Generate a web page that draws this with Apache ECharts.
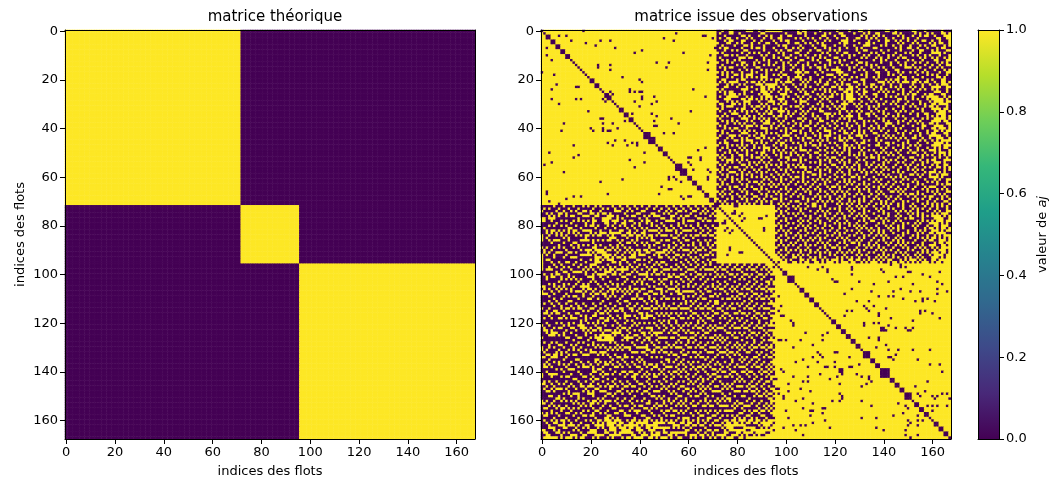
<!DOCTYPE html>
<html><head><meta charset="utf-8">
<style>html,body{margin:0;padding:0;background:#fff}#c{width:1052px;height:484px}</style>
<script src="https://cdn.jsdelivr.net/npm/echarts@6/dist/echarts.min.js"></script>
</head><body><div id="c"></div>
<script>
// Cell values below (# = 1, . = 0).
const blockSizes = [72, 24, 72];
const tickStep = 20;
const titleLeft = 'matrice théorique';
const titleRight = 'matrice issue des observations';
const axisLabelX = 'indices des flots';
const axisLabelY = 'indices des flots';
const colorbarMax = 1;
const viridisStops = ['#fde725','#b5de2b','#6ece58','#35b779','#1f9e89','#26828e','#31688e','#3e4989','#482878','#440154'];

// rows 0..71, columns 72..167
const topRows = [
"..#..##. ....###. .#..#### ###..... .#.##... ..#..... .#....#. ..##..#. .....##. .#...... ##...#.. ....#...",
".#...##. .#...... ..##.... ....#... .##.#... #...#.#. ..##.... #...#.#. .##..... ##.#.... .#.#..#. #...##.#",
"...#.... ..##.#.. .#..#.#. ..#..##. ....#... ...##... #..##... ...#.#.. #.#.#... ..#.#... #..#.##. .#...###",
".#..##.. #...#.#. ...#..#. .##..... #.#..#.# ..#..#.. .#...#.. .##..#.# .#...#.. #...#.#. ..#..... ..##..##",
"...#.##. ..##...# ..#....# ..#.##.. ...#.... #...#.#. ...###.. #.....#. ..#..##. .#.#..#. .#..##.. #..#...#",
"#...##.. #.#...#. .#..##.. #....#.. ##..#.#. .#.#.... ..#.##.. ..#..##. #....#.. ..#.#... #.#....# .#.##..#",
"..#....# ...##.#. ...#.... .#.##... ..#....# ...##... #...#... #...###. ...#.#.. #..#...# ...#.#.. ##...#.#",
".#.##... ..#...#. ##.#...# ....#..# .#.#.... #...#.#. ..#..#.. .#.#.... ##...... .#.#..## ..#...#. ..#.##..",
"...#..#. #..##... ...#.... #.#..##. ..#...#. .##...#. #.#..... .#..##.. ...#..#. ...#.... #..##... #.#...##",
"#.#..... ..#..#.# .#...#.. .#.#.... ##...#.. ...#.#.. .#..##.. ..#....# .#..#... .#...#.# ...#.... ####.#..",
"...##.#. #...#... ..#.#..# ...#..#. ..#.#... #.#...#. ...#..#. #...#.#. ..#...#. #..#.... #.#..#.# ...#...#",
".#...... .###.##. ...#...# .#..##.. #....#.# ..#.#... ##....#. ...#.#.. .#.#..#. ..#.##.. ...#.#.. #.#..#.#",
"..#.#..# .#...... #..#.#.. ..#...#. ..##...# .#...##. ..#.#... .#...... #..#.#.. .#....#. #...#... .##...##",
"#...#.#. ..##...# .#...#.. #..#.#.. .#...#.. ..#...#. #.#....# ..##.#.. ...#...# ..#..#.. .#.#..#. ..#.#.#.",
"..#..... #.#.#..# ...#.#.# ...#..#. #..#.#.. #...#.#. ...#.#.. .#...#.# .#.....# ...#.#.. #....#.. #..#..##",
".#.#.##. ...#.... ##...... .#.#...# ...#..#. .##.#... .#....#. #..#...# ..#.#... #....### .#.#...# ..#.#...",
"...#.... .#..#.#. ..#.#.#. #..#..#. .#.#.... ..#..#.# ###...#. ..#.#... #....#.. .##..... ..#..#.. .#...#.#",
"#.#.#.#. ..#...#. #...#... ..#..... ###.##.. #..#.... .###.... #....#.. .##...#. ..#.#..# .#..#.#. ...#..##",
"..#.#..# #.#.###. ..#.#..# .#.##... .#.#.... .#...### ..#.##.. ...#.#.. ..#...#. #..#.... ..#...#. #.#...#.",
"#...#.#. ..#.#.#. #.###... ..#..#.. ###...#. ...#.... #..#...# .#...#.. #.#..... ..#.##.. #...#... ..##.#..",
"..##.... #.##.... ..#.#.#. ##...#.# ..#.#.#. ..#...#. ..#.#.#. ...##... .#...#.# .##..#.. .##...#. #...##..",
".#.#.### #...#.## .#.#.... #.#.###. ...#.#.. #.#..#.. #..#.... ##..#... ..###.#. #.#.###. ##.#.##. .#..##.#",
"#...#.#. .#.#.... ###.#### #..#...# ..#.#... .#..##.. .#.#.##. ..#.#..# #...#..# ...#.... #...#..# ..#.###.",
"...##... #...#.#. ..##.### .#..#... #...#.#. ...#...# #.#...## .#...#.# .#.#...# .#.#...# .#..#... ####..##",
"#.#..... ..###... #.##.#.# ..#.##.. .#.#.... #.#.#.#. ..##.### ..#.#... #..#.#.. ..#.#... #..#.#.. #.#...#.",
".#.#.##. ...#..#. ..###.#. .#..#.#. ..#.#..# ....#.#. #...##.# .#..##.. ..#.#.#. #...#..# ..#..... .###..#.",
"...#.### .#.#.... .#.###.. ..###... #...##.. .#.#...# .#.#.### ..#.#... ##...#.. ..#.#.#. ##...#.# #...##..",
".#..#### #...#.#. ..#.###. #..#.#.. .#.#..#. ..#.#.## ...#.### ...#.#.. .#...#.# .#...#.. #...#.## ###..#.#",
"...###.. ..##.##. #.#.#.#. .###...# ..#..#.. #..#.#.. ...#.### #.#...#. #..#.... ..##.#.. #.#...#. #####.#.",
"#...#.#. #..###.. .#...### ..#.#... #.###... ..#...#. .#..#.## ...#...# .#...#.. #.#...#. ...#...# .####.##",
".##...## .#.#.#.. ..#.#..# .#.##... ..#..#.. .#.#...# ...###.. #.#..#.. ..#.#..# .#...#.. #..#.#.. ##.####.",
"..#.###. ...#..#. ##.#.#.. ..#...#. ##.#...# ...#.#.. #.#.#... .#.#..#. #.#..... ..#.#..# .#...#.# #.#...#.",
"#.#..... #.##...# ..#..#.# #.#.#... ..#...#. #.#...#. .#.##... ..#...#. .#...#.. #...#... ..#.#... ####.##.",
".#...#.# ..#.#.#. #...#.#. .###.#.. #..#.#.. ..##.... ..#..#.# .#.#...# ..#.#... .#.#.#.. #...#... .#.###.#",
"...#..## #...#... .#.#.##. ..#..#.# ..#.#..# ....###. #.#...#. ..#..##. #...#.#. ..#....# ..#..##. ..####..",
"#.#.#... .#.#.#.# ..#....# .##.#.#. ...#...# .#...#.# ...#.### ..#...#. .#...#.. #.#.#... ..#...#. #.#.##.#",
".#....#. ..###..# .#.#.#.. #...#... .##.#... #.#..#.. ..#.#.#. ..##.... ..#.#... .#...#.. #...#.#. .#####.#",
"..#.#.#. #...#.#. ..#.##.. .#.#...# ...#..#. ..##...# .#....#. #...#.#. #...#.#. ..#.#..# .#.#.... ####.##.",
"#...#..# .#.#...# ...###.# ..#..#.. #.#...#. .#...#.. #..#.#.. .#..#... .#...### ..#...#. ..#.#..# #.#...##",
".#.#.... ..#.###. #.#...#. .#.#...# ..#.##.. #..#..#. .#...#.# ..#.#..# ..#..#.. #...#... #...##.. .####..#",
"...#.#.# #...#... ..###.#. #...#.#. ...#..#. ..#.#... #..#..#. ..#...#. #.#.#... .#.#.... ..#.#... ##.###.#",
"#.#...#. .#.#.#.# ....#... ..#.#..# #.#...#. .#..###. ..#.#... #.#.#..# ...#..#. .#...#.. #.#...#. .##.#.##",
"..#.#... ..###... #.#.#.#. #...#.#. ..#.#..# ..#...#. #...##.# ..#.#... ##...#.. ..#.#..# ...#..#. ##...##.",
".#...### .#...#.# ..##.... .#.###.. #...#... #.#.###. ..#...#. .###.#.. ..#.#.#. #...#... .#.#...# ####..#.",
"#...#.#. ..#.#... ##.#.#.# ..#...#. .#.#.##. ..#..#.. #.#.#.## ...#.... .#...#.# .#.#.#.. ##..#..# ..###..#",
"...#...# #.#.###. ..#...#. .#..#.#. ...#...# .#.#.#.. ..##.#.. #...#.#. .#.#.... ..#...#. ...#.#.. #.#.####",
".#.##... ..#...#. #.#.#... #.##...# .#..#.#. ..#...#. #...#... .#.##... ..#..##. #...#.#. ..#...#. .####.#.",
"#...#.#. #.#.#..# ...#...# ..#.#... ..#.#..# #.#.#... .#..##.# ..#...#. .##...#. ..#.#..# .#.#.... ####.###",
"..#.#... .#.#...# .#.###.. #...#.#. #.#..... .#...#.# ..#.#.#. #.#.#... ...#.#.. #...#.#. ..#...#. .#.#.##.",
".#...#.# ..#.#.#. ...#.#.# .#.#...# ..###.#. ..#.#... #...#.#. ...#..#. #...#... .#.#...# ..#.#..# ##.#...#",
"...#.#.. #...#... #.##...# ..#.#.#. #....#.. ##...#.# .#.#..#. ..#.#... .#.#.#.# ..#...#. ##...#.. .#.###.#",
"#.#...#. .##.#.#. ..#.#... #.#...#. .#.#..#. ..#.#... ..#...#. #.#.#..# ..#...#. #..#.... ..#.#.#. #..#.#.#",
".#.#..#. ..#...#. ##.#.#.. ..#.##.. ..#...#. .#...#.# #...#... .#...#.# #.#.#... ..#.#..# #...#... .#.#..#.",
"..#.###. #.#.#... ..#...#. .#...#.# #.#.#... ..#.#.#. .#.#..#. ..#.#... ..#..#.# .#...#.. .#.#..#. ##...###",
"#...#.#. .#...#.# .#.#.#.. ..#.#... ..#...#. #.#...#. ..#.#.#. .#...#.. #...#.#. ..#.#... #...#.#. .###.#..",
".#.#.... ..##.#.. #...#.#. #.#..#.# .#.#.... ..#.#..# #...#... #.#..#.# ..#.#... .#...#.# ..#.#... #.#..##.",
"..#..#.# #...#.#. ..#.#... .#...#.. #.###.#. .#...#.. .#.#.#.# ..#...#. .#.#.#.. #..#..#. .#...#.# ..##.#.#",
"#.#.#... .#.#...# .#...#.# ..#.#.#. ....#... #.#.#.#. ..#...#. #.#.#... #...#.#. ..#...#. #.#.#... .#...#.#",
".#...### ..#..#.. #.#.#... #...#..# .#.#.##. ..#...#. .#.#..#. ...#.#.# .#.#.... #.#.#... .#...#.# ##.#.#..",
"..#.#... #.#.#.#. ..#...#. .#.#.#.. ...#...# #.#.#... #...#.#. .#...#.. ..#.#.#. ...#...# #.#.#..# ..#.###.",
"#...#.#. ..#...#. #.#.#..# ..#...#. ##.#.#.. ..#...#. .#.#...# #.#.#... #....#.# .#.#.#.. ...#...# ###.#...",
".#.#..#. #.#.#... ...#.#.. #.#.#..# ...#...# .#.#.#.. #...#.#. ..#...#. .#.#.... #...#.#. .#...#.. .#.#..##",
"..#...#. .#...#.# #.#...#. ..#...#. .#.#.#.. #...#.#. ..#.#.#. #...#... #.#...#. .#.#.... #.#...#. #.#...#.",
"#.#.#... ..#.#... .#.#.#.# .#.#.#.. #...#..# ..#.#... .#...#.# ..#.#.#. ...#.#.. #...#.#. ..#.#... ..#.#.##",
".#...#.# #...#.#. ..#...#. #...#... ..#...#. .#...#.# #.#.#... .#...#.. #.#.#..# ..#...#. .#...#.# ##...#..",
"...#.#.. .#.#...# #.#.#... ..#.#.#. .#.#.#.. #.#...#. ..#...#. #.#.#.#. ..#...#. .#.#.#.. #...#.#. ..#.#.#.",
"#.#...#. ..#.#... .#...#.# .#...#.. #...#.#. ..#.#..# .#.#.#.. ..#...#. .#.#...# #.#.#... ..#...#. #.#...##",
".#.#.#.. #...#.#. ..#.#... #.#.#..# ..#...#. .#...#.. #...#.#. .#.#...# ..#.#... ...#.#.# #.#.#... .#.#.#..",
"..#...#. .#.#...# #...#.#. ..#...#. .#.#.... #.#.#.#. ..#.#... #...#.#. .#...#.# ..#...#. .#...#.# #...#.#.",
"#...#.#. ..#.#.#. .#.#...# #.#.#... ...#.#.# ..#...#. .#.#..#. ..#.#... #.#...#. .#.#.... #.#.#..# ..#.#..#",
".#.#.... #...#... #.#.#.#. ..#...#. ##...#.. .#.#.#.# ..#...#. #.#.#..# ...#.#.. #...#.#. ..#...#. .#...##.",
"..#.#.#. .#.#.#.# ..#...#. .#.#.#.. ..#.#..# #...#... .#.#.#.# ..#...#. .#.#.#.# ..#.#... #...#.#. #.#.#..#"
];

// rows 72..95, columns 96..167
const midRows = [
"..#.#..# .#...#.# #.#.#... ..#...#. .#.#.#.. #...#.#. ..#.#..# .#...#.. #.#.#.#.",
".#...#.. #.#.#... ..#...#. #.#..#.# ..#.#... .#.#..#. #...#... #.#.#..# ..#...#.",
"#.#.#... ..#...#. .#.#.#.. ..#...#. #...#.#. ..#.#... .#.#.#.# ..#...#. .#.#..##",
"..#..#.# .#.#.... #...#.#. .#.#...# ..#.#... #...#.#. ..#...#. #.#.#... #.#.###.",
".#.#.... #...#.#. ..#.#... #...#.#. .#.#.#.. ..#...#. .#.#...# ..#.#.#. ####.#.#",
"#...#.#. ..#...#. .#...#.# ..#.#... #...#.#. .#.#.#.. ..#..#.# #...#... .####..#",
"..#.#... .#.#.#.. #.#...#. .#...#.. ..#.#..# #...#.#. .#.#.... ..#.#.#. #.###.##",
".#...#.# ..#...#. ..#.#... #.#.#.#. .#...#.. ..#.#... #...#.#. .#.#...# ###.#.#.",
"#.#.#... .#.#.#.. #...#.#. ..#...#. #.#.#... .#...#.# ..#.#... #.#...#. .##.###.",
"..#...#. #...#.#. .#.#...# ..#.#... .#.#.#.# ..#...#. #.#.#... .#...#.# #.#.##.#",
".#.#.#.. ..#.#... #...#.#. .#...#.# ..#...#. #.#.#..# ..#...#. .#.#.#.. ###.#.##",
"#...#.#. .#...#.# ..#.#... #.#.#... .#.#...# ..#.#... #...#.#. ..#.#..# #.####..",
"..#.#... #.#.#... .#...#.# ..#...#. #...#.#. .#.#.#.. ..#.#... #.#...#. .#.#.###",
".#...#.# ..#...#. #.#.#... .#.#.#.. ..#.#... #...#.#. .#.#...# ..#.#.#. ##.#.#.#",
"#.#.#... .#.#.#.# ..#...#. #...#.#. .#.#...# ..#.#... #.#.#... .#...#.# #..###.#",
"..#...#. #...#... .#.#.#.. ..#.#..# #.#...#. .#...#.# ..#.#.#. #...#... .#.##.##",
".#.#.#.# ..#.#.#. #...#.#. .#...#.. ..#.#.#. #.#...#. .#.#.#.. ..#.#..# ##..##.#",
"#...#... .#...#.. ..#.#..# #.#.#... .#...#.# ..#.#... #...#.#. .#.#.#.. #.#.####",
"..#.#.#. #.#.#.#. .#...#.. ..#...#. #.#.#... .#.#.#.# ..#...#. #...#.#. .#.###.#",
".#...#.. ..#...#. #.#.#.#. .#.#.#.# ..#...#. #...#... .#.#.#.. ..#.#.#. ###.##.#",
"#.#.#..# .#.#.#.. ..#...#. #...#... .#.#.#.. ..#.#.#. #...#.#. .#.#...# .####.##",
"##.#...# #.#...#. #.#.#... .#.#.#.# ..#...#. .#.#.#.. #.#..#.# ..#.#... ###.#.##",
"###.#.#. ..##.#.# #..#.#.# ##.#..## .##.#.#. #.#.#.## ...#.#.# ##.#.#.. ##.#####",
"#.###..# #.#.##.. ##.#.### .#.###.# #..#.#.# ##.#..#. ##.##.#. #.#.###. #.##.###"
];

// dark cells inside the yellow blocks: column,row pairs, each mirrored across the diagonal
const darkCells = [
[7,2],[10,2],[17,0],[12,4],[18,5],[22,6],[24,4],[28,4],[30,7],[50,3],[54,4],[55,1],[66,2],[67,2],[70,3],[58,9],[38,9],[41,8],
[47,13],[52,13],[51,15],[68,13],[68,16],[69,10],[71,7],[23,14],[23,15],[28,14],[28,16],[33,19],[40,20],[41,21],[36,24],[36,25],
[38,25],[40,25],[41,25],[41,28],[41,27],[46,27],[45,30],[47,29],[62,24],[67,27],[61,33],[45,34],[47,35],[37,34],[24,36],[25,36],
[29,38],[31,40],[46,37],[46,39],[47,39],[53,36],[56,38],[50,42],[54,42],[30,45],[34,45],[35,47],[37,46],[39,46],[42,50],[64,49],
[67,48],[60,52],[61,52],[65,52],[65,53],[60,54],[61,55],[62,57],[68,57],[69,58],[68,61],[52,60],[52,61],[54,60],[55,61],[57,62],
[49,64],[52,65],[53,65],[48,67],[57,68],[58,69],[60,68],[61,68],[33,61],[28,25],[27,26],[29,26],[28,27],
[109,97],[113,98],[115,97],[117,98],[117,99],[127,97],[127,98],[127,100],[139,98],[140,99],[147,96],[147,97],[149,97],[150,99],[151,99],
[143,96],[163,99],[156,100],[159,101],[162,103],[164,104],[130,103],[142,103],[145,101],[148,101],[121,103],[119,102],[120,103],[136,104],
[152,104],[147,106],[162,106],[144,107],[151,107],[155,107],[162,108],[166,107],[124,108],[127,106],[135,107],[138,109],[142,109],[144,109],
[148,110],[158,110],[156,110],[156,111],[161,111],[153,111],[129,111],[134,111],[136,113],[132,113],[133,114],[134,115],[141,114],[155,115],
[155,116],[157,115],[160,116],[125,115],[127,115],[124,117],[143,118],[138,116],[138,117],[163,118],[152,119],[136,120],[138,120],[132,120],
[132,121],[142,121],[145,122],[139,122],[140,122],[139,123],[140,123],[149,122],[151,123],[150,123],[152,122],[141,123],[138,126],[138,127],
[134,126],[141,129],[142,131],[146,131],[152,131],[159,131],[137,130],[142,134],[143,134],[144,135],[145,133],[154,135],[159,137],[163,137],
[164,140],[153,146],[158,144],[157,148],[154,149],[155,150],[160,150],[162,150],[164,149],[166,149],[161,151],[160,154],[158,154],[167,151],
[166,154],[162,154],[160,156],
[80,72],[79,74],[78,75],[77,77],[75,79],[82,75],[83,77],[90,77],[92,76],[91,81],[77,89],[77,90],[82,91],[87,87],[72,79],[76,81],[78,82]
];

// squares of dark cells along the diagonal: first index, side
const diagonalBlobStarts = [2,4,6,8,10,20,22,26,32,34,36,42,44,48,50,55,57,60,62,64,67,69,99,101,106,108,110,112,119,121,123,125,127,129,132,135,137,139,143,145,147,149,153,155,157,161,163,165];
const diagonalBlobSides = [2,2,2,2,2,2,2,2,2,2,2,3,3,2,2,3,3,2,2,2,2,2,2,3,2,2,2,2,2,2,2,2,2,2,3,2,2,4,2,2,2,3,2,2,2,2,2,2];

const total = blockSizes[0] + blockSizes[1] + blockSizes[2];
const cats = Array.from({length: total}, (_, i) => String(i));
const parseRows = rows => rows.map(r => r.replace(/ /g, ''));
const topCells = parseRows(topRows), midCells = parseRows(midRows);
const observed = Array.from({length: total}, () => new Array(total).fill(1));
const setSym = (r, c, v) => { observed[r][c] = v; observed[c][r] = v; };
topCells.forEach((s, r) => { for (let c = 0; c < 96; c++) setSym(r, 72 + c, s[c] === '#' ? 1 : 0); });
midCells.forEach((s, r) => { for (let c = 0; c < 72; c++) setSym(72 + r, 96 + c, s[c] === '#' ? 1 : 0); });
darkCells.forEach(p => setSym(p[1], p[0], 0));
for (let i = 0; i < total; i++) observed[i][i] = 0;
diagonalBlobStarts.forEach((s, k) => {
  for (let a = 0; a < diagonalBlobSides[k]; a++) for (let b = 0; b < diagonalBlobSides[k]; b++) setSym(s + a, s + b, 0);
});
const blockOf = i => i < blockSizes[0] ? 0 : i < blockSizes[0] + blockSizes[1] ? 1 : 2;
const theoData = [], obsData = [];
for (let r = 0; r < total; r++) for (let c = 0; c < total; c++) {
  theoData.push([c, r, blockOf(r) === blockOf(c) ? 1 : 0]);
  obsData.push([c, r, observed[r][c]]);
}

const FONT = 'DejaVu Sans', FS = 13;
const axisLineStyle = {show: true, onZero: false, lineStyle: {color: '#000', width: 1}};
const axisTickStyle = {show: true, length: 5, alignWithLabel: true, interval: tickStep - 1, lineStyle: {color: '#000', width: 1}};
const axisLabelStyle = {show: true, interval: tickStep - 1, color: '#000', fontFamily: FONT, fontSize: FS, margin: 7, hideOverlap: false};
const nameStyle = {color: '#000', fontFamily: FONT, fontSize: FS};
const frame = (grid, pos, isY) => ({type: 'category', data: cats, gridIndex: grid, position: pos, z: 10,
  axisLine: axisLineStyle, axisTick: {show: false}, axisLabel: {show: false}, splitLine: {show: false}, inverse: isY});
const mainX = grid => ({type: 'category', data: cats, gridIndex: grid, position: 'bottom', z: 10,
  name: axisLabelX, nameLocation: 'middle', nameGap: 26, nameTextStyle: nameStyle,
  axisLine: axisLineStyle, axisTick: axisTickStyle, axisLabel: axisLabelStyle, splitLine: {show: false}});
const mainY = (grid, named) => ({type: 'category', data: cats, gridIndex: grid, position: 'left', inverse: true, z: 10,
  name: named ? axisLabelY : '', nameLocation: 'middle', nameGap: 38, nameRotate: 90, nameTextStyle: nameStyle,
  axisLine: axisLineStyle, axisTick: axisTickStyle, axisLabel: axisLabelStyle, splitLine: {show: false}});

const option = {
  animation: false,
  backgroundColor: '#fff',
  textStyle: {fontFamily: FONT},
  title: [
    {text: titleLeft, left: 270, top: 5, textAlign: 'center', textStyle: {color: '#000', fontFamily: FONT, fontSize: 15, fontWeight: 'normal'}},
    {text: titleRight, left: 746, top: 5, textAlign: 'center', textStyle: {color: '#000', fontFamily: FONT, fontSize: 15, fontWeight: 'normal'}}
  ],
  grid: [
    {left: 65, top: 30, width: 410, height: 409},
    {left: 541, top: 30, width: 410, height: 409},
    {left: 978, top: 30, width: 21, height: 409}
  ],
  xAxis: [mainX(0), mainX(1), frame(0, 'top', false), frame(1, 'top', false),
    {type: 'category', data: ['c'], gridIndex: 2, position: 'bottom', z: 10, axisLine: axisLineStyle, axisTick: {show: false}, axisLabel: {show: false}},
    {type: 'category', data: ['c'], gridIndex: 2, position: 'top', z: 10, axisLine: axisLineStyle, axisTick: {show: false}, axisLabel: {show: false}}
  ],
  yAxis: [mainY(0, true), mainY(1, false), frame(0, 'right', true), frame(1, 'right', true),
    {type: 'value', gridIndex: 2, position: 'right', min: 0, max: 1, interval: 0.2, z: 10,
      name: 'valeur de {i|aj}', nameLocation: 'middle', nameGap: 37, nameRotate: 90,
      nameTextStyle: {color: '#000', fontFamily: FONT, fontSize: FS, rich: {i: {fontStyle: 'italic', fontFamily: FONT, fontSize: FS, color: '#000'}}},
      axisLine: axisLineStyle, axisTick: {show: true, length: 5, lineStyle: {color: '#000', width: 1}},
      axisLabel: {color: '#000', fontFamily: FONT, fontSize: FS, margin: 7, formatter: v => v.toFixed(1)},
      splitLine: {show: false}},
    {type: 'value', gridIndex: 2, position: 'left', min: 0, max: 1, z: 10, axisLine: axisLineStyle, axisTick: {show: false}, axisLabel: {show: false}, splitLine: {show: false}}
  ],
  visualMap: {show: false, type: 'continuous', min: 0, max: 1, seriesIndex: [0, 1], inRange: {color: ['#440154', '#fde725']}},
  series: [
    {type: 'heatmap', xAxisIndex: 0, yAxisIndex: 0, data: theoData, progressive: 0, itemStyle: {borderWidth: 0}, emphasis: {disabled: true}},
    {type: 'heatmap', xAxisIndex: 1, yAxisIndex: 1, data: obsData, progressive: 0, itemStyle: {borderWidth: 0}, emphasis: {disabled: true}},
    {type: 'bar', xAxisIndex: 4, yAxisIndex: 4, data: [colorbarMax], barWidth: '100%',
      itemStyle: {color: {type: 'linear', x: 0, y: 0, x2: 0, y2: 1,
        colorStops: viridisStops.map((c, i) => ({offset: i / (viridisStops.length - 1), color: c}))}}}
  ]
};
echarts.init(document.getElementById('c'), null, {renderer: 'canvas'}).setOption(option);
</script></body></html>
